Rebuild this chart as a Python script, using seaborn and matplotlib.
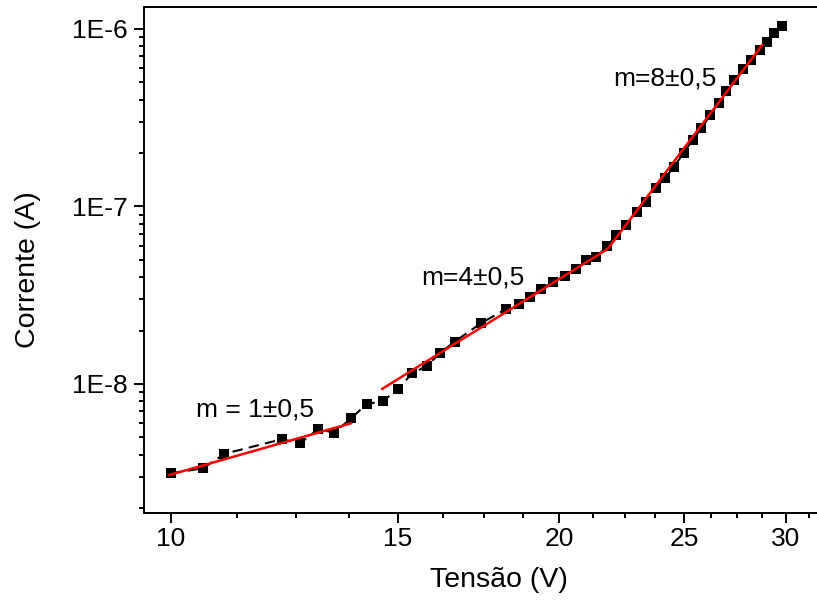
import matplotlib
matplotlib.use('Agg')
import matplotlib.pyplot as plt
import seaborn as sns
from matplotlib.ticker import FixedLocator, FixedFormatter, LogLocator, NullFormatter

# ---- data ----
tensao = [10.0, 10.59, 11.0, 12.19, 12.6, 13.0, 13.39, 13.79, 14.19, 14.6,
          15.0, 15.39, 15.8, 16.18, 16.6, 17.4, 18.19, 18.61, 19.0, 19.38,
          19.79, 20.2, 20.62, 21.0, 21.38, 21.8,
          22.16, 22.56, 22.99, 23.38, 23.78, 24.18, 24.58, 24.99, 25.4, 25.8,
          26.21, 26.61, 26.96, 27.36, 27.8, 28.21, 28.62, 29.01, 29.39, 29.77]
corrente = [3.14e-9, 3.35e-9, 4.04e-9, 4.88e-9, 4.63e-9, 5.56e-9, 5.32e-9, 6.39e-9, 7.72e-9, 7.99e-9,
            9.37e-9, 1.149e-8, 1.263e-8, 1.50e-8, 1.73e-8, 2.20e-8, 2.64e-8, 2.81e-8, 3.10e-8, 3.44e-8,
            3.74e-8, 4.07e-8, 4.43e-8, 4.97e-8, 5.17e-8, 5.99e-8,
            6.91e-8, 7.86e-8, 9.35e-8, 1.064e-7, 1.266e-7, 1.453e-7, 1.676e-7, 2.01e-7, 2.37e-7, 2.76e-7,
            3.28e-7, 3.84e-7, 4.47e-7, 5.16e-7, 5.93e-7, 6.69e-7, 7.61e-7, 8.48e-7, 9.46e-7, 1.04e-6]

fit1_v = [9.97, 13.8]
fit1_i = [3.07e-9, 6.01e-9]
fit2_v = [14.58, 21.8]
fit2_i = [9.37e-9, 5.74e-8]
fit3_v = [21.85, 28.76]
fit3_i = [5.84e-8, 8.13e-7]

x_ticks = [10, 15, 20, 25, 30]
x_tick_labels = ['10', '15', '20', '25', '30']
x_minor = [11.25, 12.5, 13.75, 16.25, 17.5, 18.75, 21.25, 22.5, 23.75,
           26.25, 27.5, 28.75, 31.25]
y_ticks = [1e-8, 1e-7, 1e-6]
y_tick_labels = ['1E-8', '1E-7', '1E-6']

annotations = [("m = 1\u00b10,5", 10.457, 6.52e-9),
               ("m=4\u00b10,5", 15.65, 3.645e-8),
               ("m=8\u00b10,5", 22.05, 4.776e-7)]

# ---- style ----
sns.set_theme(style='ticks')
plt.rcParams['font.family'] = ['Liberation Sans', 'DejaVu Sans']

fig = plt.figure(figsize=(8.17, 6.01), dpi=100)
ax = fig.add_axes([144/817, 88/601, 678/817, 506/601])
ax.set_xscale('log')
ax.set_yscale('log')

sns.lineplot(x=tensao, y=corrente, ax=ax, color='black', lw=1.5,
             linestyle=(0, (5, 3)), marker='s', markersize=6.5,
             markeredgewidth=0, sort=False, estimator=None)
for fv, fi in [(fit1_v, fit1_i), (fit2_v, fit2_i), (fit3_v, fit3_i)]:
    sns.lineplot(x=fv, y=fi, ax=ax, color='red', lw=1.8, sort=False,
                 estimator=None)

ax.set_xlim(9.529, 32.0)
ax.set_ylim(1.875e-9, 1.33e-6)

ax.xaxis.set_major_locator(FixedLocator(x_ticks))
ax.xaxis.set_major_formatter(FixedFormatter(x_tick_labels))
ax.xaxis.set_minor_locator(FixedLocator(x_minor))
ax.xaxis.set_minor_formatter(NullFormatter())
ax.yaxis.set_major_locator(FixedLocator(y_ticks))
ax.yaxis.set_major_formatter(FixedFormatter(y_tick_labels))
ax.yaxis.set_minor_locator(LogLocator(base=10, subs=range(2, 10), numticks=20))
ax.yaxis.set_minor_formatter(NullFormatter())

for s in ['left', 'bottom', 'top', 'right']:
    ax.spines[s].set_visible(True)
    ax.spines[s].set_color('black')
    ax.spines[s].set_linewidth(1.4)

ax.tick_params(which='major', direction='out', length=7, width=1.4,
               labelsize=19, colors='black', top=False, right=False)
ax.tick_params(which='minor', direction='out', length=3.6, width=1.4,
               colors='black', top=False, right=False)
ax.tick_params(axis='x', which='major', pad=3)
ax.tick_params(axis='y', which='major', pad=5)

for txt, xv, yv in annotations:
    ax.text(xv, yv, txt, fontsize=19, ha='left', va='baseline', color='black')

ax.set_xlabel('Tensão (V)', fontsize=20.5, color='black', va='center')
ax.set_ylabel('Corrente (A)', fontsize=20.5, color='black', va='center')
ax.xaxis.set_label_coords(0.5236, -0.1324)
ax.yaxis.set_label_coords(-0.1711, 0.480)

fig.savefig('out.png', dpi=100)
